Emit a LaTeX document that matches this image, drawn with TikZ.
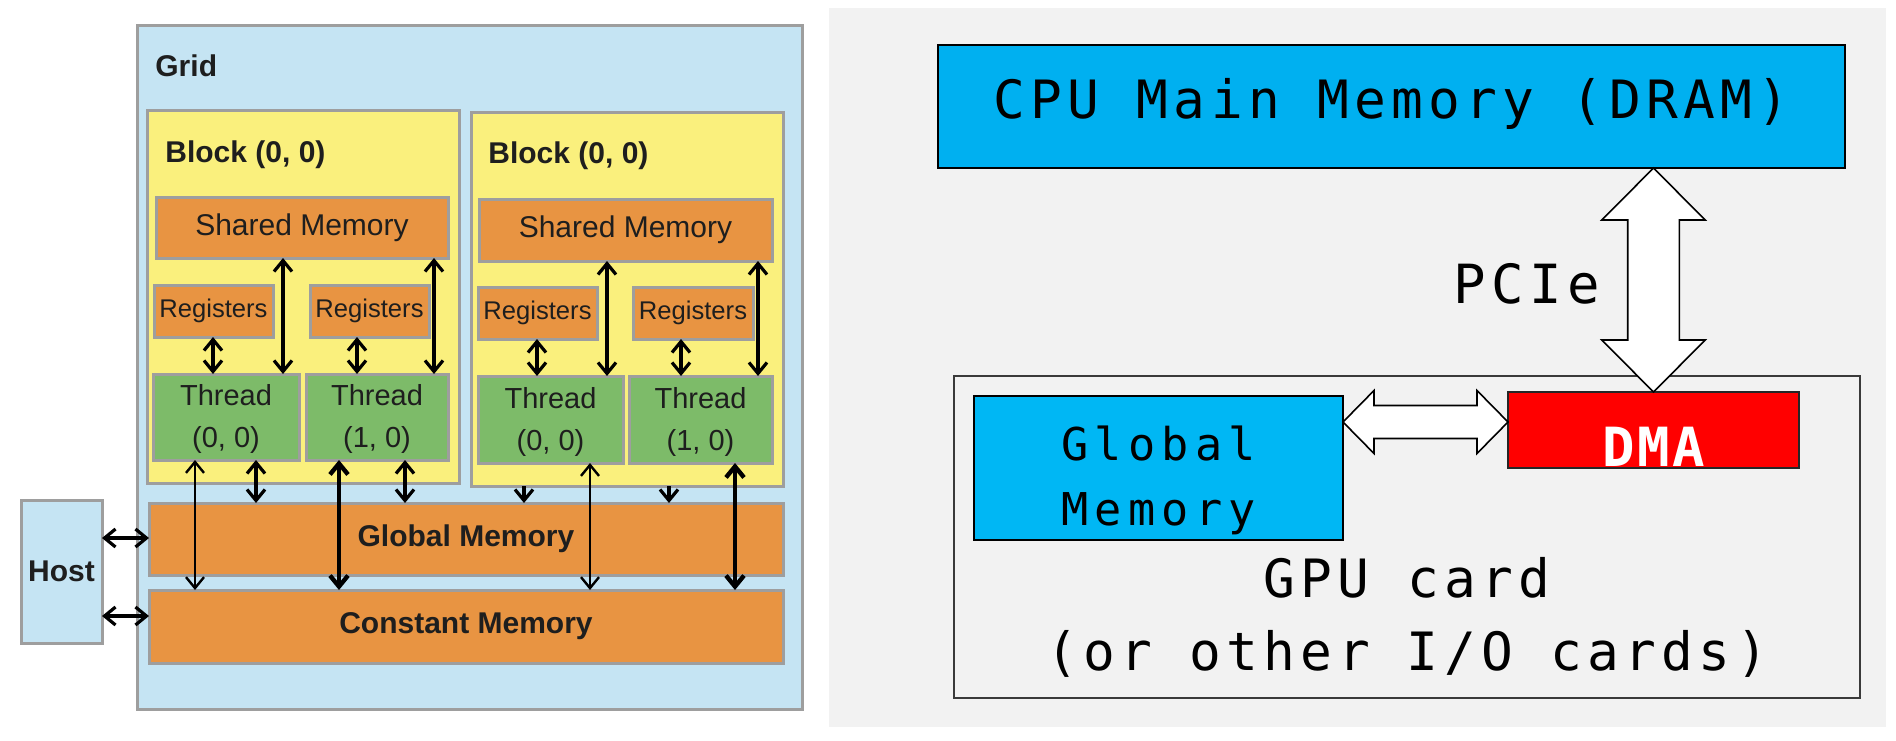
\documentclass[tikz,border=0pt]{standalone}
\usepackage{fontspec}
\setmainfont{Liberation Sans}
\newfontfamily\monoA[LetterSpace=10.2]{DejaVu Sans Mono}
\newfontfamily\monoB[LetterSpace=13.7]{DejaVu Sans Mono}
\newfontfamily\monoC[LetterSpace=5]{DejaVu Sans Mono}
\usetikzlibrary{arrows.meta,fit,calc}
\definecolor{gridblue}{HTML}{C5E4F3}
\definecolor{blockyel}{HTML}{FAF07D}
\definecolor{memorg}{HTML}{E89442}
\definecolor{thrgrn}{HTML}{7DBB69}
\definecolor{bordgray}{HTML}{9E9E9E}
\definecolor{txtdark}{HTML}{1E1E1E}
\definecolor{bggray}{HTML}{F2F2F2}
\definecolor{cpublue}{HTML}{00B0F0}
\definecolor{gmblue}{HTML}{00B7F4}
\definecolor{gpuedge}{HTML}{3A3A3A}
\tikzset{
  tipb/.tip={Straight Barb[length=5.5pt,width=9pt]},
  lbox/.style={draw=bordgray, line width=1.5pt, inner sep=0pt, outer sep=0pt},
  gridbox/.style={lbox, fill=gridblue},
  blockbox/.style={lbox, fill=blockyel},
  membox/.style={lbox, fill=memorg},
  thrbox/.style={lbox, fill=thrgrn},
  ltext/.style={inner sep=0pt, text=txtdark},
  thrfont/.style={ltext, align=center, font=\fontsize{14.5pt}{21pt}\selectfont},
  smfont/.style={ltext, font=\fontsize{15pt}{18pt}\selectfont},
  regfont/.style={ltext, font=\fontsize{12.8pt}{15pt}\selectfont},
  boldlbl/.style={ltext, font=\bfseries\fontsize{15pt}{18pt}\selectfont},
  arrN/.style={line width=1.6pt, tipb-tipb},
  arrThin/.style={line width=1.2pt, tipb-tipb},
  arrThick/.style={line width=2.2pt, tipb-tipb},
  arrEnd/.style={line width=1.6pt, -tipb},
  rbox/.style={draw=black, line width=1pt, inner sep=0pt, outer sep=0pt},
  monoBig/.style={font={\monoA\fontsize{26.4pt}{30pt}\selectfont}, inner sep=0pt, anchor=base},
  monoMid/.style={font={\monoB\fontsize{22.6pt}{26pt}\selectfont}, inner sep=0pt, anchor=base},
  hollow/.style={draw=black, fill=white, line width=0.8pt, line join=miter},
}
\begin{document}
\begin{tikzpicture}[x=0.5pt,y=-0.5pt]
\useasboundingbox (0,0) rectangle (1896,740);
\fill[white] (0,0) rectangle (1896,740);

% ---------------- left: CUDA memory model ----------------
\node[gridbox, fit={(137,25)(802,709)}] (grid) {};
\node[boldlbl, anchor=base west] (gridlbl) at ([xshift=9pt,yshift=-25.5pt]grid.north west) {Grid};

\node[blockbox, fit={(147,110)(459,483)}] (b1) {};
\node[blockbox, fit={(471,112)(783,486)}] (b2) {};
\node[boldlbl, anchor=base west] (b1lbl) at ([xshift=9pt,yshift=-26pt]b1.north west) {Block (0, 0)};
\node[boldlbl, anchor=base west] (b2lbl) at ([xshift=8.5pt,yshift=-25.5pt]b2.north west) {Block (0, 0)};

\node[membox, fit={(156,197)(448,258)}] (sm1) {};
\node[membox, fit={(479,199)(772,261)}] (sm2) {};
\node[smfont] (sm1t) at (sm1.center) {Shared Memory};
\node[smfont] (sm2t) at (sm2.center) {Shared Memory};

\node[membox, fit={(154,285)(273,337)}] (reg1) {};
\node[membox, fit={(310,285)(429,337)}] (reg2) {};
\node[membox, fit={(478,287)(597,339)}] (reg3) {};
\node[membox, fit={(633,287)(753,339)}] (reg4) {};
\foreach \r in {1,2,3,4} \node[regfont] (reg\r t) at (reg\r.center) {Registers};

\node[thrbox, fit={(153,374)(299,460)}] (th1) {};
\node[thrbox, fit={(306,374)(448,460)}] (th2) {};
\node[thrbox, fit={(478,376)(623,463)}] (th3) {};
\node[thrbox, fit={(629,376)(772,463)}] (th4) {};
\node[thrfont] (th1t) at ([yshift=-1pt]th1.center) {Thread\\(0, 0)};
\node[thrfont] (th2t) at ([yshift=-1pt]th2.center) {Thread\\(1, 0)};
\node[thrfont] (th3t) at ([yshift=-1pt]th3.center) {Thread\\(0, 0)};
\node[thrfont] (th4t) at ([yshift=-1pt]th4.center) {Thread\\(1, 0)};

\node[membox, fit={(149,503)(783,575)}] (gmem) {};
\node[membox, fit={(149,590)(783,663)}] (cmem) {};
\node[boldlbl] (gmemt) at (gmem.center) {Global Memory};
\node[boldlbl] (cmemt) at (cmem.center) {Constant Memory};

\node[gridbox, fit={(21,500)(102,643)}] (host) {};
\node[boldlbl] (hostt) at (host.center) {Host};

% registers <-> threads
\draw[arrN] (reg1.south -| 213,0) -- (th1.north -| 213,0);
\draw[arrN] (reg2.south -| 357,0) -- (th2.north -| 357,0);
\draw[arrN] (reg3.south -| 537,0) -- (th3.north -| 537,0);
\draw[arrN] (reg4.south -| 681,0) -- (th4.north -| 681,0);
% shared <-> threads
\draw[arrN] (sm1.south -| 283,0) -- (th1.north -| 283,0);
\draw[arrN] (sm1.south -| 434,0) -- (th2.north -| 434,0);
\draw[arrN] (sm2.south -| 607,0) -- (th3.north -| 607,0);
\draw[arrN] (sm2.south -| 758,0) -- (th4.north -| 758,0);
% threads <-> global
\draw[arrN] (th1.south -| 256,0) -- (gmem.north -| 256,0);
\draw[arrN] (th2.south -| 405,0) -- (gmem.north -| 405,0);
\draw[arrEnd] (b2.south -| 524,0) -- (gmem.north -| 524,0);
\draw[arrEnd] (b2.south -| 669,0) -- (gmem.north -| 669,0);
% threads <-> constant
\draw[arrThin] (th1.south -| 195,0) -- (cmem.north -| 195,0);
\draw[arrThick] (th2.south -| 339,0) -- (cmem.north -| 339,0);
\draw[arrThin] (th3.south -| 590,0) -- (cmem.north -| 590,0);
\draw[arrThick] (th4.south -| 735,0) -- (cmem.north -| 735,0);
% host
\draw[arrN] (host.east |- 0,538) -- (gmem.west |- 0,538);
\draw[arrN] (host.east |- 0,616) -- (cmem.west |- 0,616);

% ---------------- right: DMA / PCIe ----------------
\node[fill=bggray, inner sep=0pt, outer sep=0pt, fit={(829,8)(1886,727)}] (panel) {};
\node[rbox, fill=cpublue, fit={(938,45)(1845,168)}] (cpu) {};
\node[monoBig] (cputxt) at ([yshift=-5.75pt]cpu.center) {CPU Main Memory (DRAM)};

\node[rbox, draw=gpuedge, line width=1.2pt, fill=bggray, fit={(954,376)(1860,698)}] (gpu) {};
\node[rbox, fill=gmblue, fit={(974,396)(1343,540)}] (gm) {};
\node[rbox, draw=black!85, fill=red, fit={(1508,392)(1799,468)}] (dma) {};

\node[monoMid] (gmtxt1) at ([yshift=4pt]gm.center) {Global};
\node[monoMid] (gmtxt2) at ([yshift=-28.5pt]gm.center) {Memory};
\node[font={\monoC\bfseries\fontsize{27pt}{32pt}\selectfont}, text=white, inner sep=0pt, anchor=base] (dmatxt) at ([yshift=-18pt]dma.center) {DMA};

\node[monoBig] (gputxt1) at ([yshift=-30pt]gpu.center) {GPU card};
\node[monoBig] (gputxt2) at ([yshift=-66.5pt]gpu.center) {(or other I/O cards)};

% PCIe big double arrow
\coordinate (pt) at (cpu.south -| dma.north);
\coordinate (pb) at (dma.north);
\draw[hollow] (pt) -- ++(51.7,52) -- ++(-25.9,0) -- ($(pb)+(25.8,-52)$) -- ++(25.9,0) -- (pb)
  -- ++(-51.7,-52) -- ++(25.9,0) -- ($(pt)+(-25.8,52)$) -- ++(-25.9,0) -- cycle;
\node[font={\monoA\fontsize{27pt}{30pt}\selectfont}, inner sep=0pt, anchor=base] (pcietxt) at ($(pt)+(-127,135)$) {PCIe};

% Global memory <-> DMA double arrow
\coordinate (hl) at ([yshift=-13pt]gm.north east);
\coordinate (hr) at (hl -| dma.west);
\draw[hollow] (hl) -- ++(31,-31.5) -- ++(0,15) -- ($(hr)+(-31,-16.5)$) -- ++(0,-15) -- (hr)
  -- ++(-31,31.5) -- ++(0,-15) -- ($(hl)+(31,16.5)$) -- ++(0,15) -- cycle;
\end{tikzpicture}
\end{document}
